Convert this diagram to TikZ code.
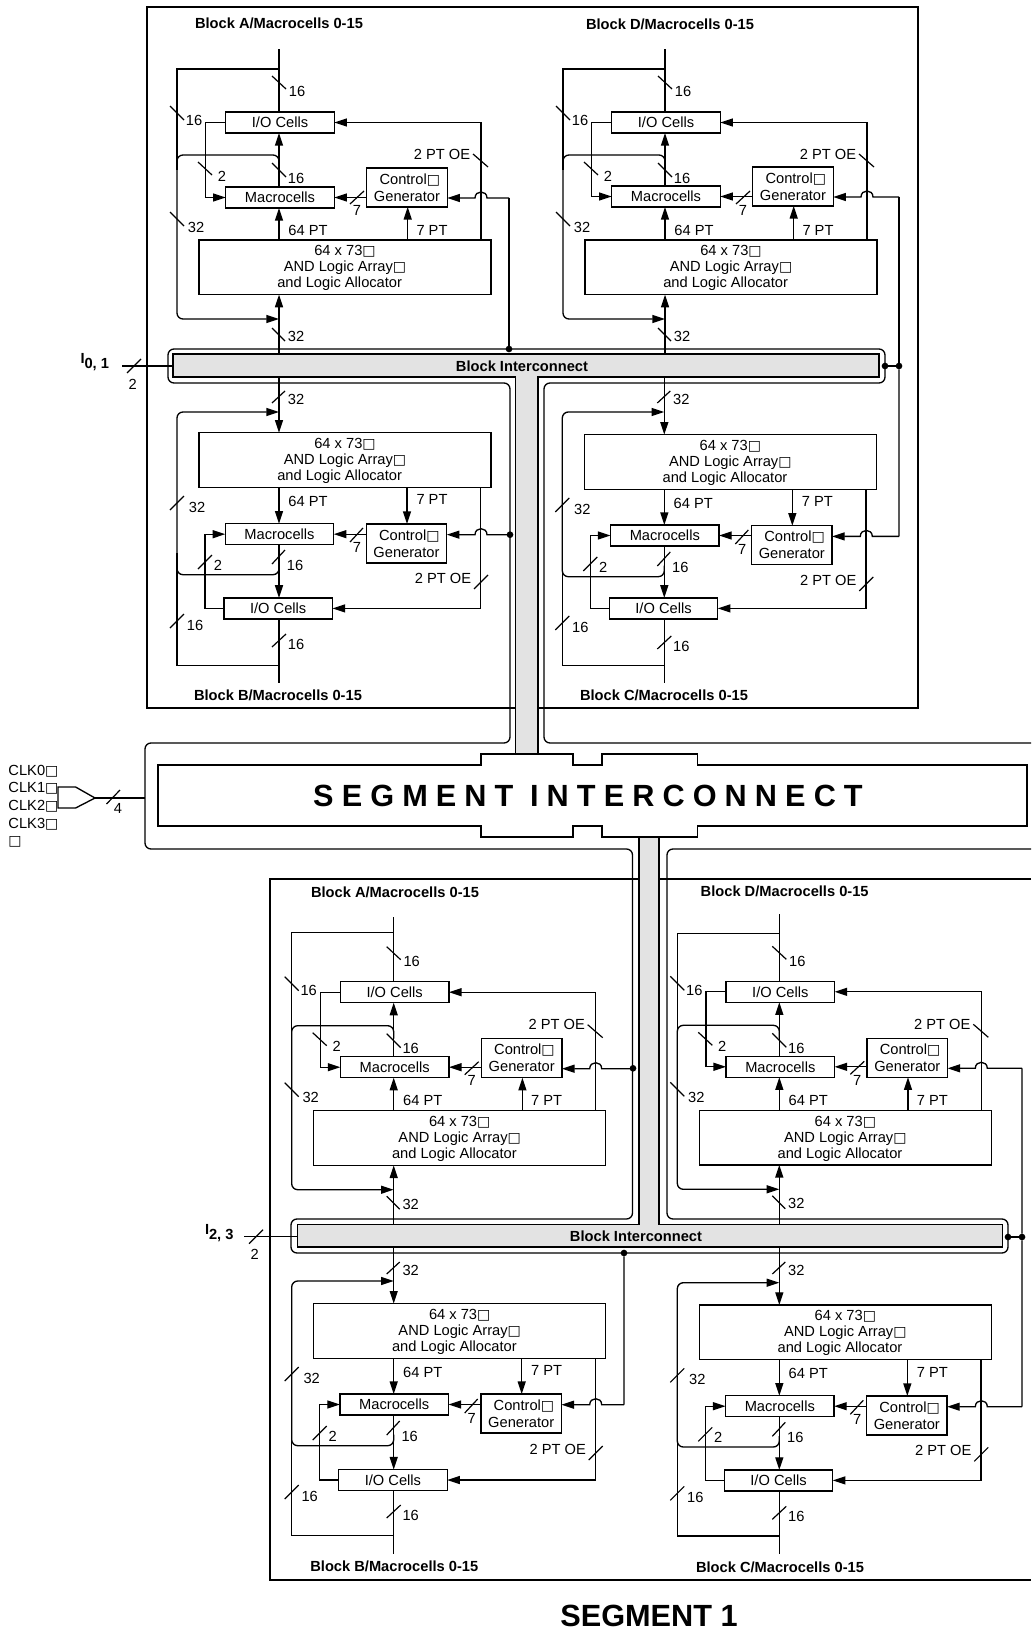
\documentclass[tikz,border=0pt]{standalone}
\usepackage{fontspec}
\setmainfont{Liberation Sans}
\newfontfamily\symf{DejaVu Sans}
\newfontfamily\segf[LetterSpace=26.4]{Liberation Sans}
\usetikzlibrary{arrows.meta}
\newcommand{\bx}{{\symf\fontsize{10.5}{12}\selectfont □}}
\newcommand{\andtxt}{\rule{0pt}{9pt}64 x 73\bx\\AND Logic Array\bx\\and Logic Allocator\hspace*{8pt}}
\tikzset{
  every node/.style={inner sep=0pt,outer sep=0pt,font=\fontsize{11}{12}\selectfont},
  lbl/.style={},
  ttl/.style={font=\fontsize{11}{12}\selectfont\bfseries},
  cell/.style={draw,line width=1pt,align=center},
  andbox/.style={cell,minimum width=219pt,minimum height=41pt},
  mcbox/.style={cell,minimum width=81.4pt,minimum height=15.75pt},
  cgbox/.style={cell,minimum width=60.4pt,minimum height=29.25pt,align=right,font=\fontsize{11}{12.75}\selectfont},
  wire/.style={line width=1pt},
  arr/.style={wire,-{Triangle[length=9.5pt,width=6pt]}},
  tickm/.style={line width=0.9pt},
  dotn/.style={circle,fill=black,minimum size=5pt},
}
% #1 prefix #2 X #3 Y #4 top #5 branch #6 ctrl-in x #7 bus coord #8 macro shift #9 io shift ; \cgs ctrl shift, \tky label
\newcommand{\upblock}[9]{%
\begin{scope}[shift={(#2,#3)}]
  \coordinate (#1x) at (0,0);
  \coordinate (#1t) at (0,#4);
  \coordinate (#1fb) at (-73.3,0);
  \coordinate (#1oe) at (202,0);
  \coordinate (#1p7) at (128.7,0);
  \coordinate (#1cin) at (#6,-42+\cgs);
  \node[andbox] (#1and) at (66,27.3) {\andtxt};
  \node[mcbox] (#1mc) at (1,-42.5+#8) {Macrocells};
  \node[mcbox] (#1io) at (1,-117.5+#9) {I/O Cells};
  \node[cgbox] (#1cg) at (128,-52.5+\cgs) {Control\bx\\Generator};
  \draw[wire] (#1io.north -| #1x) -- (#1t);
  \draw[arr] (#1mc.north -| #1x) -- (#1io.south -| #1x);
  \draw[arr] (#1and.north -| #1x) -- (#1mc.south -| #1x);
  \draw[arr] (#1x |- #7) -- (#1and.south -| #1x);
  \draw[wire] (0,#5) -- (-102,#5) -- (-102,-70);
  \draw[arr,rounded corners=4.5pt] (0,-72) -- (0,-85) -- (-102,-85) -- (-102,79) -- (0,79);
  \draw[arr] (#1io.west) -- (#1io.west -| #1fb) -- (#1mc.west -| #1fb) -- (#1mc.west);
  \draw[arr] (#1and.north -| #1oe) -- (#1io.east -| #1oe) -- (#1io.east);
  \draw[arr] (#1and.north -| #1p7) -- (#1cg.south -| #1p7);
  \draw[arr] (#1cg.west |- #1mc) -- (#1mc.east);
  \draw[arr] (#1cin) -- (208,-42+\cgs) .. controls (208,-50+\cgs) and (196,-50+\cgs) .. (196,-42+\cgs) -- (#1cg.east |- #1cin);
  \draw[tickm] (-7,-164) -- (7,-151);
  \draw[tickm] (-109,-134) -- (-95,-120);
  \draw[tickm] (-81,-78) -- (-67,-65);
  \draw[tickm] (-7,-77) -- (7,-63);
  \draw[tickm] (-109,-28) -- (-95,-14);
  \draw[tickm] (-7,\tky-8) -- (6,\tky+5);
  \draw[tickm] (71,-36) -- (85,-49);
  \draw[tickm] (194,-86) -- (209,-73);
  \node[lbl] (#1a) at (18,-149) {16};
  \node[lbl] (#1b) at (-85,-120) {16};
  \node[lbl] (#1c) at (-57,-64) {2};
  \node[lbl] (#1d) at (17,-62) {16};
  \node[lbl] (#1e) at (-83,-13) {32};
  \node[lbl] (#1f) at (17,\tky) {32};
  \node[lbl] (#1g) at (78,-30) {7};
  \node[lbl] (#1h) at (163,-86) {2 PT OE};
  \node[lbl] (#1i) at (29,-10) {64 PT};
  \node[lbl] (#1j) at (153,-10) {7 PT};
\end{scope}}
% #1 prefix #2 X #3 Y #4 bottom #5 branch #6 ctrl-in x #7 bus coord #8 macro shift #9 io shift ; \cgs ctrl shift, \lpt loop top, \tky label
\newcommand{\downblock}[9]{%
\begin{scope}[shift={(#2,#3)}]
  \coordinate (#1x) at (0,0);
  \coordinate (#1t) at (0,#4);
  \coordinate (#1fb) at (-74,0);
  \coordinate (#1oe) at (201.7,0);
  \coordinate (#1p7) at (128,0);
  \coordinate (#1cin) at (#6,102+\cgs);
  \node[andbox] (#1and) at (66,27.3) {\andtxt};
  \node[mcbox] (#1mc) at (0.5,101.5+#8) {Macrocells};
  \node[mcbox] (#1io) at (-0.8,175.7+#9) {I/O Cells};
  \node[cgbox] (#1cg) at (127.5,110.8+\cgs) {Control\bx\\Generator};
  \draw[arr] (#1x |- #7) -- (#1and.north -| #1x);
  \draw[arr] (#1and.south -| #1x) -- (#1mc.north -| #1x);
  \draw[arr] (#1mc.south -| #1x) -- (#1io.north -| #1x);
  \draw[wire] (#1io.south -| #1x) -- (#1t);
  \draw[wire] (0,#5) -- (-102,#5) -- (-102,120);
  \draw[arr,rounded corners=4.5pt] (0,131) -- (0,142) -- (-102,142) -- (-102,\lpt) -- (0,\lpt);
  \draw[arr] (#1io.west) -- (#1io.west -| #1fb) -- (#1mc.west -| #1fb) -- (#1mc.west);
  \draw[arr] (#1and.south -| #1oe) -- (#1io.east -| #1oe) -- (#1io.east);
  \draw[arr] (#1and.south -| #1p7) -- (#1cg.north -| #1p7);
  \draw[arr] (#1cg.west |- #1mc) -- (#1mc.east);
  \draw[arr] (#1cin) -- (208,102+\cgs) .. controls (208,94+\cgs) and (196,94+\cgs) .. (196,102+\cgs) -- (#1cg.east |- #1cin);
  \draw[tickm] (-7,\tky+4) -- (6,\tky-8);
  \draw[tickm] (-109,77.3) -- (-95,63.3);
  \draw[tickm] (-81,136.3) -- (-67,122.3);
  \draw[tickm] (-7,131.3) -- (6,117.3);
  \draw[tickm] (-109,195.3) -- (-95,181.3);
  \draw[tickm] (-7,214.3) -- (7,201.3);
  \draw[tickm] (71,109.3) -- (84,95.3);
  \draw[tickm] (195,156.3) -- (209,142.3);
  \node[lbl] (#1a) at (17,\tky) {32};
  \node[lbl] (#1b) at (-82,74.3) {32};
  \node[lbl] (#1c) at (-61,132.3) {2};
  \node[lbl] (#1d) at (16,132.3) {16};
  \node[lbl] (#1e) at (-84,192.3) {16};
  \node[lbl] (#1f) at (17,211.3) {16};
  \node[lbl] (#1g) at (78,114.3) {7};
  \node[lbl] (#1h) at (164,145.3) {2 PT OE};
  \node[lbl] (#1i) at (29,68.7) {64 PT};
  \node[lbl] (#1j) at (153,67) {7 PT};
\end{scope}}
\begin{document}
\begin{tikzpicture}[x=0.75pt,y=-0.75pt]
\useasboundingbox (0,0) rectangle (1031,1630);
% frames
\draw[wire] (147,7) rectangle (918,708);
\draw[wire] (1031,879) -- (270,879) -- (270,1580) -- (1031,1580);
% bus outer outline
\draw[wire,rounded corners=4.5pt] (1031,743) -- (544,743) -- (544,383) -- (885,383) -- (885,349) -- (168,349) -- (168,383) -- (510,383) -- (510,743) -- (145,743) -- (145,849) -- (632.5,849) -- (632.5,1219) -- (291,1219) -- (291,1253) -- (1008,1253) -- (1008,1219) -- (667,1219) -- (667,849) -- (1031,849);
% grey interconnect
\draw[wire,fill=black!11] (173,354) -- (879,354) -- (879,377) -- (538,377) -- (538,754) -- (515.5,754) -- (515.5,377) -- (173,377) -- cycle;
\draw[wire,fill=black!11] (297.7,1224.5) -- (639,1224.5) -- (639,837) -- (659,837) -- (659,1224.5) -- (1002.7,1224.5) -- (1002.7,1247) -- (297.7,1247) -- cycle;
% segment interconnect
\draw[wire,fill=white] (158,765) -- (481,765) -- (481,754) -- (573,754) -- (573,765) -- (602,765) -- (602,754) -- (697.5,754) -- (697.5,765) -- (1027,765) -- (1027,826) -- (697.5,826) -- (697.5,837) -- (602,837) -- (602,826) -- (573,826) -- (573,837) -- (481,837) -- (481,826) -- (158,826) -- cycle;
\node[font=\fontsize{23}{24}\selectfont\bfseries\segf] (segtxt) at (588,796) {SEGMENT INTERCONNECT};
\node[ttl] (bi1) at (522,366) {Block Interconnect};
\node[ttl] (bi2) at (636,1236.5) {Block Interconnect};
\coordinate (bus1n) at (0,354);
\coordinate (bus1s) at (0,377);
\coordinate (bus2n) at (0,1224.5);
\coordinate (bus2s) at (0,1247);
\coordinate (bus1w) at (173,366);
\coordinate (bus2w) at (297.7,1236.7);
% dots
\node[dotn] (d1) at (509,349) {};
\node[dotn] (d2) at (885,366) {};
\node[dotn] (d3) at (899,366) {};
\node[dotn] (d4) at (510,534.7) {};
\node[dotn] (d5) at (633,1068.3) {};
\node[dotn] (d6) at (624,1253) {};
\node[dotn] (d7) at (1008,1237) {};
\node[dotn] (d8) at (1022,1237) {};
\draw[wire] (d2) -- (d3);
\draw[wire] (d7) -- (d8);
% blocks
\def\cgs{0}\def\tky{96}
\upblock{A}{279}{240}{-191}{-171}{230}{bus1n}{0}{0}
\def\cgs{-1}
\upblock{D}{665}{240}{-191}{-171}{234}{bus1n}{-1}{0}
\def\cgs{0}\def\tky{93.5}
\upblock{E}{393.7}{1110.7}{-194}{-178}{239.3}{bus2n}{-1}{-1}
\upblock{H}{779.3}{1110.3}{-196}{-177}{242.7}{bus2n}{-1}{-1}
\def\cgs{0}\def\lpt{-20.7}\def\tky{-33.7}
\downblock{B}{279}{432.7}{250}{233}{231}{bus1s}{0}{0}
\def\cgs{-0.3}\def\lpt{-22.7}\def\tky{-35.7}
\downblock{C}{664.3}{434.7}{248.6}{231}{234.7}{bus1s}{-0.7}{-2}
\def\cgs{-1}\def\lpt{-22.7}\def\tky{-33.7}
\downblock{F}{393.7}{1303.7}{250.3}{232}{230.3}{bus2s}{-0.7}{0.6}
\def\cgs{-0.3}\def\lpt{-22.3}\def\tky{-35}
\downblock{G}{779.3}{1305}{249}{231}{242.7}{bus2s}{-0.3}{-0.3}
% control feeds
\draw[wire] (Acin) -- (d1);
\draw[wire] (Dcin) -- (d3);
\draw[wire] (Ccin) -- (d3);
\draw[wire] (Hcin) -- (d8);
\draw[wire] (Gcin) -- (d8);
\draw[wire] (Fcin) -- (d6);
% titles
\node[ttl] (tA) at (279,23) {Block A/Macrocells 0-15};
\node[ttl] (tD) at (670,24) {Block D/Macrocells 0-15};
\node[ttl] (tB) at (278,695.7) {Block B/Macrocells 0-15};
\node[ttl] (tC) at (664,695) {Block C/Macrocells 0-15};
\node[ttl] (tE) at (395,892) {Block A/Macrocells 0-15};
\node[ttl] (tH) at (784.7,891) {Block D/Macrocells 0-15};
\node[ttl] (tF) at (394.3,1566.7) {Block B/Macrocells 0-15};
\node[ttl] (tG) at (780,1567) {Block C/Macrocells 0-15};
\node[font=\fontsize{23}{24}\selectfont\bfseries] (seg1) at (649,1615.5) {SEGMENT 1};
% inputs
\coordinate (i1) at (122,366);
\coordinate (i2) at (244,1236.7);
\draw[wire] (i1) -- (bus1w);
\draw[wire] (i2) -- (bus2w);
\draw[tickm] (127,373) -- (141,359);
\draw[tickm] (249,1243.7) -- (263,1229.7);
\node[lbl] (i1n) at (132.7,384) {2};
\node[lbl] (i2n) at (254.7,1254.7) {2};
\node[ttl,anchor=west] (i1l) at (80.5,362) {I\raisebox{-3.5pt}{0, 1}};
\node[ttl,anchor=west] (i2l) at (205,1233) {I\raisebox{-3.5pt}{2, 3}};
% clocks
\node[lbl,anchor=west] (ck0) at (8.5,771) {CLK0\bx};
\node[lbl,anchor=west] (ck1) at (8.5,788) {CLK1\bx};
\node[lbl,anchor=west] (ck2) at (8.5,806) {CLK2\bx};
\node[lbl,anchor=west] (ck3) at (8.5,824) {CLK3\bx};
\node[lbl,anchor=west] (ck4) at (8.5,842) {\bx};
\draw[wire] (58,787) -- (75.6,787) -- (95,798) -- (75.6,808) -- (58,808) -- cycle;
\coordinate (gt) at (95,798);
\coordinate (ge) at (145,798);
\draw[wire] (gt) -- (ge);
\draw[tickm] (106.5,804) -- (120,790);
\node[lbl] (ck5) at (118,808) {4};
\end{tikzpicture}
\end{document}
